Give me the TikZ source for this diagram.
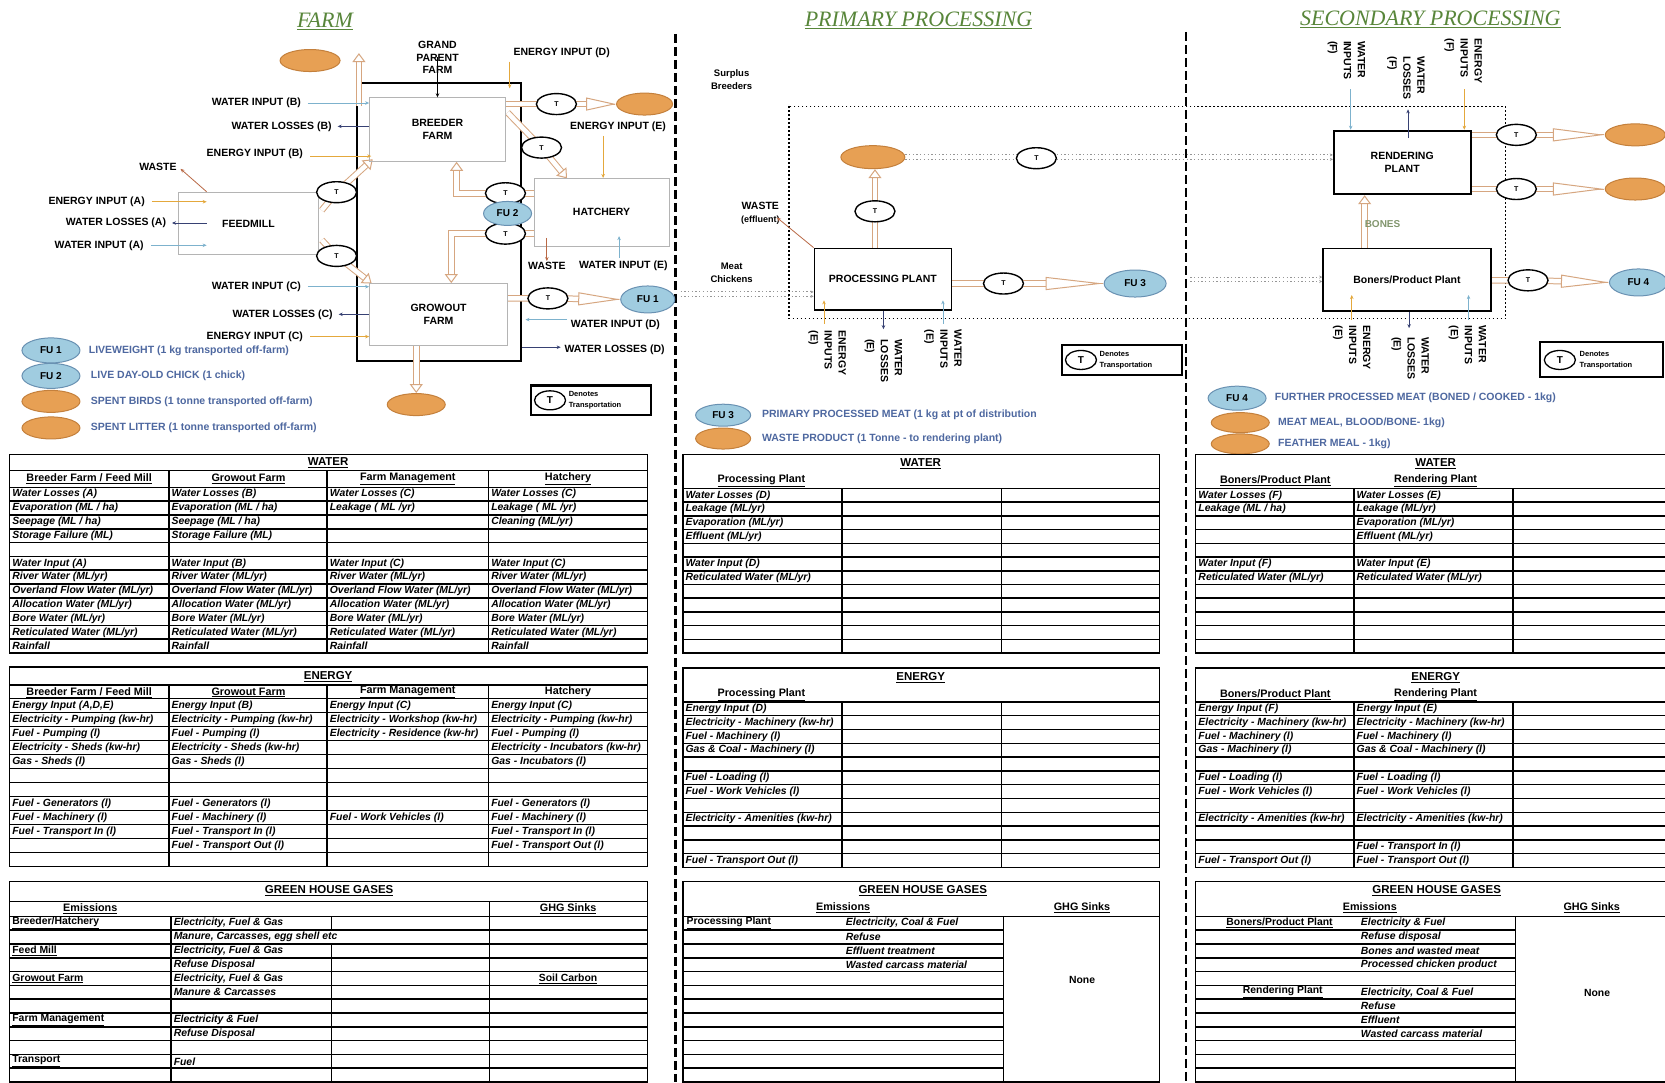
\documentclass[tikz,border=0pt]{standalone}
\usepackage{fontspec}
\setmainfont{Liberation Sans}
\newfontfamily\headserif{Liberation Serif}
\usetikzlibrary{shapes.geometric,arrows.meta,calc}
\pgfdeclarelayer{back}
\pgfdeclarelayer{flows}
\pgfsetlayers{back,flows,main}

\definecolor{titleGreen}{RGB}{88,134,58}
\definecolor{fuOrFill}{RGB}{231,160,84}
\definecolor{fuOrEdge}{RGB}{196,128,60}
\definecolor{fuBlueFill}{RGB}{160,204,224}
\definecolor{fuBlueEdge}{RGB}{105,145,178}
\definecolor{legendBlue}{RGB}{78,104,160}
\definecolor{flowTan}{RGB}{214,166,128}
\definecolor{waterIn}{RGB}{125,178,205}
\definecolor{waterOut}{RGB}{55,65,115}
\definecolor{energyIn}{RGB}{228,168,60}
\definecolor{wasteCol}{RGB}{185,105,70}
\definecolor{boneGreen}{RGB}{130,150,110}
\definecolor{unitGrey}{RGB}{180,180,180}
\definecolor{xferGrey}{RGB}{150,150,150}

% one column of table cells: prefix, x, top of first row, row height, entries
\newcommand\cellcol[5]{%
  \foreach \celltext [count=\rr] in {#5}{%
    \node[cell] (#1\rr) at (#2,{#3+(\rr-0.5)*#4}) {\celltext};}}
% inner row separators: x0, x1, top, row height, number of lines
\newcommand\rowlines[5]{%
  \foreach \kk in {1,...,#5}{\draw[gridline] (#1,{#3+\kk*#4}) -- (#2,{#3+\kk*#4});}}

\begin{document}
\begin{tikzpicture}[x=1.0619pt,y=-1.0619pt,
  lbl/.style={font=\bfseries\fontsize{10.5}{12.5}\selectfont, inner sep=0.5pt, align=center},
  smalllbl/.style={font=\bfseries\fontsize{9.5}{13}\selectfont, inner sep=0.5pt, align=center},
  vlbl/.style={font=\bfseries\fontsize{10.5}{14}\selectfont, inner sep=0.5pt, align=left, rotate=-90, anchor=west},
  unitbox/.style={draw=unitGrey, line width=0.8pt, font=\bfseries\fontsize{10.5}{13}\selectfont, align=center, inner sep=0pt},
  plantbox/.style={draw=black, line width=1.8pt, font=\bfseries\fontsize{10.5}{13}\selectfont, align=center, inner sep=0pt},
  tsign/.style={ellipse, draw=black, line width=1.4pt, fill=white, minimum width=40pt, minimum height=21pt, inner sep=0pt, font=\bfseries\fontsize{7}{8}\selectfont},
  tkey/.style={ellipse, draw=black, line width=1.3pt, fill=white, minimum width=31pt, minimum height=19pt, inner sep=0pt, font=\bfseries\fontsize{10}{11}\selectfont},
  keytext/.style={font=\bfseries\fontsize{7.5}{11}\selectfont, align=left, anchor=west, inner sep=0.5pt},
  fuB/.style={ellipse, draw=fuBlueEdge, line width=1pt, fill=fuBlueFill, inner sep=0pt, minimum height=25pt, minimum width=#1, font=\bfseries\fontsize{10}{11}\selectfont},
  fuB/.default=56pt,
  fuO/.style={ellipse, draw=fuOrEdge, line width=1pt, fill=fuOrFill, inner sep=0pt, minimum height=22pt, minimum width=#1},
  fuO/.default=60pt,
  legtext/.style={font=\bfseries\fontsize{10.5}{12}\selectfont, text=legendBlue, anchor=west, inner sep=0.5pt},
  sectitle/.style={font=\headserif\itshape\fontsize{22}{24}\selectfont, text=titleGreen, inner sep=1pt},
  win/.style={draw=waterIn, line width=0.8pt, -{Stealth[length=4pt,width=3.5pt]}},
  wout/.style={draw=waterOut, line width=0.8pt, -{Stealth[length=4pt,width=3.5pt]}},
  ein/.style={draw=energyIn, line width=0.8pt, -{Stealth[length=4pt,width=3.5pt]}},
  wst/.style={draw=wasteCol, line width=0.8pt, -{Stealth[length=4pt,width=3.5pt]}},
  flow/.style={draw=flowTan, line width=1pt, double=white, double distance=4.5pt},
  flowhead/.style={draw=flowTan, line width=1pt, -{Triangle[open,fill=white,length=#1,width=13pt]}},
  flowhead/.default=9pt,
  xfer/.style={draw=xferGrey, line width=1pt, dash pattern=on 1.3pt off 2.4pt},
  sepline/.style={line width=2.4pt, dash pattern=on 9pt off 4pt},
  zone/.style={line width=1.3pt, dash pattern=on 1.8pt off 2.2pt},
  tlegend/.style={draw, line width=2.2pt, inner sep=0pt},
  gridline/.style={line width=1.5pt},
  cell/.style={font=\bfseries\itshape\fontsize{10.4}{11}\selectfont, anchor=west, inner sep=0.5pt},
  colhead/.style={font=\bfseries\fontsize{10.8}{12}\selectfont, inner sep=0.5pt},
  tabtitle/.style={font=\bfseries\fontsize{11.5}{12}\selectfont, inner sep=0.5pt},
  rowhead/.style={font=\bfseries\fontsize{10.4}{11}\selectfont, inner sep=0.5pt}
]
\useasboundingbox (0,0) rectangle (1568,1019);

% ================= background: page, separators, boundaries
\begin{pgfonlayer}{back}
  \fill[white] (0,0) rectangle (1568,1019);
  \draw[sepline] (636,32) -- (636,1019);
  \draw[sepline] (1117,30) -- (1117,1019);
  \draw[zone] (743,100) rectangle (1418,300);
  \node[draw, line width=1.8pt, minimum width=164.6pt, minimum height=278.2pt, inner sep=0pt] (farmzone) at (413.5,209) {};
\end{pgfonlayer}

% ================= section titles
\node[sectitle] (farmT) at (306,20) {\underline{FARM}};
\node[sectitle] (primT) at (865,19) {\underline{PRIMARY PROCESSING}};
\node[sectitle] (secT) at (1347,18) {\underline{SECONDARY PROCESSING}};

% ================= farm units
\node[unitbox, minimum width=135.9pt, minimum height=63.7pt] (breeder) at (412,122) {BREEDER\\FARM};
\node[unitbox, minimum width=138pt, minimum height=61.6pt] (growout) at (413,296) {GROWOUT\\FARM};
\node[unitbox, minimum width=140.2pt, minimum height=62.7pt] (feedmill) at (234,210.5) {FEEDMILL};
\node[unitbox, minimum width=134.9pt, minimum height=68pt] (hatchery) at (566.5,200) {HATCHERY};

% transport points and functional units on the farm
\node[tsign] (tfa) at (317,181) {T};
\node[tsign] (tfb) at (317,241) {T};
\node[tsign] (tbo) at (524,98) {T};
\node[tsign] (tbh) at (510,139) {T};
\node[tsign] (tca) at (476,182) {T};
\node[tsign] (tcb) at (476,220) {T};
\node[fuB=48pt, minimum height=24pt] (fu2) at (478,201) {FU 2};
\node[tsign] (tgr) at (516,281) {T};
\node[fuB=54pt, minimum height=27pt] (fu1) at (610,282) {FU 1};
\node[fuO=60pt] (ored1) at (292,57) {};
\node[fuO=56pt] (ored2) at (607,98) {};
\node[fuO=58pt] (ored3) at (392,381) {};

% ================= farm labels and thin flows
\node[lbl] (gpf) at (412,54) {GRAND\\PARENT\\FARM};
\draw[black, line width=0.9pt, -{Stealth[length=4pt,width=3.5pt]}] (gpf.center) -- (breeder.north);
\node[lbl, anchor=west] (eiD) at (483,50) {ENERGY INPUT (D)};
\coordinate (eiDtop) at (480,58);
\draw[ein] (eiDtop) -- ($(eiDtop |- farmzone.north)+(0,6)$);
\node[lbl] (eiE) at (582,119) {ENERGY INPUT (E)};
\coordinate (eiEtop) at (568,128);
\draw[ein] (eiEtop) -- (eiEtop |- hatchery.north);
\node[lbl] (wsH) at (515,250) {WASTE};
\coordinate (wsHtop) at (515,224);
\draw[wst] (wsHtop) -- (wsH.north);
\node[lbl] (wiE) at (587,250) {WATER INPUT (E)};
\coordinate (wiEfoot) at (583,243);
\draw[win] (wiEfoot) -- ($(wiEfoot |- hatchery.south)+(0,-10)$);
\node[lbl, anchor=west] (wiD) at (537,306) {WATER INPUT (D)};
\draw[win] ($(wiD.west)+(-3,-5)$) -- ($(farmzone.east |- wiD.west)+(3,-5)$);
\node[lbl, anchor=west] (wlD) at (531,329) {WATER LOSSES (D)};
\draw[wout] ($(farmzone.east |- wlD.west)+(0,-2)$) -- ($(wlD.west)+(-3,-2)$);

\node[lbl, anchor=east] (wiB) at (284,97) {WATER INPUT (B)};
\draw[win] ($(wiB.east)+(6,0)$) -- (breeder.west |- wiB.east);
\node[lbl, anchor=east] (wlB) at (313,119) {WATER LOSSES (B)};
\draw[wout] (breeder.west |- wlB.east) -- ($(wlB.east)+(5,0)$);
\node[lbl, anchor=east] (eiB) at (286,145) {ENERGY INPUT (B)};
\draw[ein] ($(eiB.east)+(6,2)$) -- ($(breeder.west |- eiB.east)+(2,2)$);
\node[lbl, anchor=east] (wsF) at (167,157) {WASTE};
\draw[wst] ($(feedmill.north west)+(27,0)$) -- ($(wsF.east)+(3,2)$);
\node[lbl, anchor=east] (eiA) at (137,190) {ENERGY INPUT (A)};
\draw[ein] ($(eiA.east)+(6,0)$) -- ($(feedmill.west |- eiA.east)+(27,0)$);
\node[lbl, anchor=east] (wlA) at (157,210) {WATER LOSSES (A)};
\draw[wout] ($(feedmill.west |- wlA.east)+(27,0)$) -- ($(wlA.east)+(5,0)$);
\node[lbl, anchor=east] (wiA) at (136,231) {WATER INPUT (A)};
\draw[win] ($(wiA.east)+(6,0)$) -- ($(feedmill.west |- wiA.east)+(27,0)$);
\node[lbl, anchor=east] (wiC) at (284,270) {WATER INPUT (C)};
\draw[win] ($(wiC.east)+(6,0)$) -- (growout.west |- wiC.east);
\node[lbl, anchor=east] (wlC) at (314,296) {WATER LOSSES (C)};
\draw[wout] (growout.west |- wlC.east) -- ($(wlC.east)+(5,0)$);
\node[lbl, anchor=east] (eiC) at (286,317) {ENERGY INPUT (C)};
\draw[ein] ($(eiC.east)+(6,0)$) -- (growout.west |- eiC.east);

% farm key
\node[fuB=58pt] (fu1leg) at (48,330) {FU 1};
\node[legtext] (fu1txt) at (83,330) {LIVEWEIGHT (1 kg transported off-farm)};
\node[fuB=58pt] (fu2leg) at (48,354) {FU 2};
\node[legtext] (fu2txt) at (85,354) {LIVE DAY-OLD CHICK (1 chick)};
\node[fuO=58pt] (sbleg) at (48,378) {};
\node[legtext] (sbtxt) at (85,378) {SPENT BIRDS (1 tonne transported off-farm)};
\node[fuO=58pt] (slleg) at (48,403) {};
\node[legtext] (sltxt) at (85,403) {SPENT LITTER (1 tonne transported off-farm)};
\node[tlegend, minimum width=120pt, minimum height=29.7pt] (tkeyF) at (556.5,377) {};
\node[tkey] (tkeyFt) at (518,377) {T};
\node[keytext] (tkeyFx) at (535,377) {Denotes\\Transportation};

% ================= primary processing
\node[plantbox, minimum width=137pt, minimum height=61.6pt] (procplant) at (831.5,263) {PROCESSING PLANT};
\node[fuO=64pt, minimum height=23pt] (oproc) at (822,148) {};
\node[tsign] (tpa) at (824,199) {T};
\node[tsign] (tpb) at (976,149) {T};
\node[tsign] (tpc) at (945,267) {T};
\node[fuB=62pt, minimum height=27pt] (fu3) at (1069,267) {FU 3};

\node[smalllbl] (surplus) at (689,75) {Surplus\\Breeders};
\node[lbl] (wsP) at (716,201) {WASTE\\{\fontsize{9}{10}\selectfont (effluent)}};
\draw[wst] (procplant.north west) -- ($(wsP.east)+(-3,4)$);
\node[smalllbl] (meatch) at (689,257) {Meat\\Chickens};

\coordinate (peA) at (776,305);
\draw[ein] (peA) -- ($(peA |- procplant.south)+(0,-10)$);
\coordinate (pwEnd) at (832,310);
\draw[wout] (pwEnd |- procplant.south) -- (pwEnd);
\coordinate (piA) at (888,305);
\draw[win] (piA) -- ($(piA |- procplant.south)+(0,-10)$);
\node[vlbl] (pel) at (779,311) {ENERGY\\INPUTS\\(E)};
\node[vlbl] (pwl) at (832,319) {WATER\\LOSSES\\(E)};
\node[vlbl] (pil) at (888,310) {WATER\\INPUTS\\(E)};

\node[tlegend, minimum width=120pt, minimum height=29.7pt] (tkeyP) at (1056.5,339) {};
\node[tkey] (tkeyPt) at (1018,339) {T};
\node[keytext] (tkeyPx) at (1035,339) {Denotes\\Transportation};

\node[fuB=55pt, minimum height=22pt] (fu3leg) at (681,391) {FU 3};
\node[legtext] (fu3txt) at (717,391) {PRIMARY PROCESSED MEAT (1 kg at pt of distribution};
\node[fuO=55pt, minimum height=21pt] (wpleg) at (681,413) {};
\node[legtext] (wptxt) at (717,413) {WASTE PRODUCT (1 Tonne - to rendering plant)};

% ================= secondary processing
\node[plantbox, minimum width=137pt, minimum height=63.7pt] (rendering) at (1320.5,153) {RENDERING\\PLANT};
\node[plantbox, minimum width=167.8pt, minimum height=62.7pt] (boners) at (1325,263.5) {Boners/Product Plant};
\node[tsign] (tra) at (1428,127) {T};
\node[tsign] (trb) at (1428,178) {T};
\node[tsign] (tbn) at (1439,264) {T};
\node[fuO=60pt] (oren1) at (1540,127) {};
\node[fuO=60pt] (oren2) at (1540,178) {};
\node[fuB=58pt, minimum height=27pt] (fu4) at (1543,266) {FU 4};
\node[font=\bfseries\fontsize{10}{11}\selectfont, text=boneGreen, inner sep=0.5pt] (bones) at (1302,211) {BONES};

\node[vlbl] (sril) at (1268,38) {WATER\\INPUTS\\(F)};
\node[vlbl] (srll) at (1324,53) {WATER\\LOSSES\\(F)};
\node[vlbl] (srel) at (1378,36) {ENERGY\\INPUTS\\(F)};
\coordinate (sriA) at (1272,84);
\draw[win] (sriA) -- (sriA |- rendering.north);
\coordinate (srlA) at (1326,103);
\draw[wout] ($(srlA |- rendering.north)+(0,8)$) -- (srlA);
\coordinate (sreA) at (1379,84);
\draw[ein] (sreA) -- (sreA |- rendering.north);

\coordinate (seA) at (1273,301);
\draw[ein] (seA) -- ($(seA |- boners.south)+(0,-16)$);
\coordinate (swEnd) at (1327,309);
\draw[wout] (swEnd |- boners.south) -- (swEnd);
\coordinate (siA) at (1383,301);
\draw[win] (siA) -- ($(siA |- boners.south)+(0,-16)$);
\node[vlbl] (sel) at (1273,306) {ENERGY\\INPUTS\\(E)};
\node[vlbl] (swl) at (1328,317) {WATER\\LOSSES\\(E)};
\node[vlbl] (sil) at (1382,306) {WATER\\INPUTS\\(E)};

\node[tlegend, minimum width=123pt, minimum height=35pt] (tkeyS) at (1508,338.5) {};
\node[tkey] (tkeySt) at (1469,339) {T};
\node[keytext] (tkeySx) at (1487,339) {Denotes\\Transportation};

\node[fuB=58pt, minimum height=24pt] (fu4leg) at (1165,375) {FU 4};
\node[legtext] (fu4txt) at (1200,375) {FURTHER PROCESSED MEAT (BONED / COOKED - 1kg)};
\node[fuO=58pt, minimum height=20pt] (mmleg) at (1168,398) {};
\node[legtext] (mmtxt) at (1203,398) {MEAT MEAL, BLOOD/BONE- 1kg)};
\node[fuO=58pt, minimum height=20pt] (fmleg) at (1168,418) {};
\node[legtext] (fmtxt) at (1203,418) {FEATHER MEAL - 1kg)};

% ================= material flows (drawn beneath the nodes)
\begin{pgfonlayer}{flows}
  % spent birds leaving the farm
  \coordinate (upStart) at (338,100);
  \coordinate (upEnd) at (338,50);
  \draw[flow, shorten >=7pt] (upStart) -- (upEnd);
  \draw[flowhead] ($(upEnd)!1pt!(upStart)$) -- (upEnd);
  % feedmill to breeder farm
  \coordinate (fmUp) at (303,198);
  \coordinate (brFoot) at (351,150);
  \draw[flow, shorten >=7pt] (fmUp) -- (tfa.center) -- (brFoot);
  \draw[flowhead] ($(brFoot)!1pt!(tfa.center)$) -- (brFoot);
  % feedmill to growout farm
  \coordinate (fmDown) at (303,226);
  \coordinate (grHead) at (350,267);
  \draw[flow, shorten >=7pt] (fmDown) -- (tfb.center) -- (grHead);
  \draw[flowhead] ($(grHead)!1pt!(tfb.center)$) -- (grHead);
  % breeder farm to hatchery
  \coordinate (brOut) at (478,106);
  \coordinate (hatTop) at (534,168);
  \draw[flow, shorten >=7pt] (brOut) -- (tbh.center) -- (hatTop);
  \draw[flowhead] ($(hatTop)!1pt!(tbh.center)$) -- (hatTop);
  % breeder farm to surplus breeders
  \draw[flow, shorten >=28pt] (breeder.east |- tbo) -- (tbo.center) -- (ored2.west);
  \draw[flowhead=30pt] ($(ored2.west)!1pt!(tbo.center)$) -- (ored2.west);
  % day-old chicks back to breeder and on to growout
  \coordinate (chkUpCorner) at (430,182);
  \coordinate (chkUpTip) at (chkUpCorner |- breeder.south);
  \draw[flow, shorten >=7pt] (hatchery.west |- tca) -- (chkUpCorner) -- (chkUpTip);
  \draw[flowhead] ($(chkUpTip)!1pt!(chkUpCorner)$) -- (chkUpTip);
  \coordinate (chkDnCorner) at (425,220);
  \coordinate (chkDnTip) at (chkDnCorner |- growout.north);
  \draw[flow, shorten >=7pt] (hatchery.west |- tcb) -- (chkDnCorner) -- (chkDnTip);
  \draw[flowhead] ($(chkDnTip)!1pt!(chkDnCorner)$) -- (chkDnTip);
  % growout farm to FU 1
  \draw[flow, shorten >=40pt] (growout.east |- tgr) -- (tgr.center) -- (fu1.west);
  \draw[flowhead=42pt] ($(fu1.west)!1pt!(tgr.center)$) -- (fu1.west);
  % growout farm to spent litter
  \coordinate (litFoot) at (ored3 |- growout.south);
  \draw[flow, shorten >=7pt] (litFoot) -- (ored3.north);
  \draw[flowhead] ($(ored3.north)!1pt!(litFoot)$) -- (ored3.north);

  % processing plant to waste product
  \coordinate (ppUpFoot) at (tpa |- procplant.north);
  \coordinate (ppUpTip) at (tpa |- oproc.south);
  \draw[flow, shorten >=7pt] (ppUpFoot) -- (ppUpTip);
  \draw[flowhead] ($(ppUpTip)!1pt!(ppUpFoot)$) -- (ppUpTip);
  % processing plant to FU 3
  \draw[flow, shorten >=56pt] (procplant.east |- tpc) -- (tpc.center) -- (fu3.west);
  \draw[flowhead=58pt] ($(fu3.west)!1pt!(tpc.center)$) -- (fu3.west);

  % rendering products
  \draw[flow, shorten >=50pt] (rendering.east |- tra) -- (tra.center) -- (oren1.west);
  \draw[flowhead=52pt] ($(oren1.west)!1pt!(tra.center)$) -- (oren1.west);
  \draw[flow, shorten >=50pt] (rendering.east |- trb) -- (trb.center) -- (oren2.west);
  \draw[flowhead=52pt] ($(oren2.west)!1pt!(trb.center)$) -- (oren2.west);
  % boners plant to FU 4
  \draw[flow, shorten >=46pt] (boners.east |- tbn) -- (tbn.center) -- (fu4.west);
  \draw[flowhead=48pt] ($(fu4.west)!1pt!(tbn.center)$) -- (fu4.west);
  % bones to rendering
  \coordinate (bnFoot) at ($(boners.north west)+(40,0)$);
  \coordinate (bnTip) at (bnFoot |- rendering.south);
  \draw[flow, shorten >=7pt] (bnFoot) -- (bnTip);
  \draw[flowhead] ($(bnTip)!1pt!(bnFoot)$) -- (bnTip);

  % dotted transfers between stages
  \coordinate (mcStart) at (641,277);
  \coordinate (mcEnd) at (procplant.west |- mcStart);
  \coordinate (wpStart) at (oproc.east);
  \coordinate (wpEnd) at (rendering.west |- oproc.east);
  \coordinate (bnStart) at (1121,263);
  \coordinate (bnEnd) at (boners.west |- bnStart);
  \foreach \dy in {-2.2,2.2}{
    \draw[xfer, -{Stealth[length=3pt,width=3pt]}] ([yshift=\dy pt]mcStart) -- ([yshift=\dy pt]mcEnd);
    \draw[xfer, -{Stealth[length=3pt,width=3pt]}] ([yshift=\dy pt]wpStart) -- ([yshift=\dy pt]wpEnd);
    \draw[xfer, -{Stealth[length=3pt,width=3pt]}] ([yshift=\dy pt]bnStart) -- ([yshift=\dy pt]bnEnd);
  }
\end{pgfonlayer}

% ================= farm tables
% water
\draw[gridline] (9,428) rectangle (610,615);
\draw[gridline] (9,443) -- (610,443);
\draw[gridline] (9,459) -- (610,459);
\rowlines{9}{610}{459}{13}{11}
\foreach \xx in {159,308,460}{\draw[gridline] (\xx,443) -- (\xx,615);}
\node[tabtitle] (fwT) at (309,436) {\underline{WATER}};
\node[colhead] (fwH1) at (84,451) {\underline{Breeder Farm / Feed Mill}};
\node[colhead] (fwH2) at (234,451) {\underline{Growout Farm}};
\node[colhead] (fwH3) at (384,451) {\underline{Farm Management}};
\node[colhead] (fwH4) at (535,451) {\underline{Hatchery}};
\cellcol{fwa}{11}{459}{13}{Water Losses (A),Evaporation (ML / ha),Seepage (ML / ha),Storage Failure (ML),{},Water Input (A),River Water (ML/yr),Overland Flow Water (ML/yr),Allocation Water (ML/yr),Bore Water (ML/yr),Reticulated Water (ML/yr),Rainfall}
\cellcol{fwb}{161}{459}{13}{Water Losses (B),Evaporation (ML / ha),Seepage (ML / ha),Storage Failure (ML),{},Water Input (B),River Water (ML/yr),Overland Flow Water (ML/yr),Allocation Water (ML/yr),Bore Water (ML/yr),Reticulated Water (ML/yr),Rainfall}
\cellcol{fwc}{310}{459}{13}{Water Losses (C),Leakage ( ML /yr),{},{},{},Water Input (C),River Water (ML/yr),Overland Flow Water (ML/yr),Allocation Water (ML/yr),Bore Water (ML/yr),Reticulated Water (ML/yr),Rainfall}
\cellcol{fwd}{462}{459}{13}{Water Losses (C),Leakage ( ML /yr),Cleaning (ML/yr),{},{},Water Input (C),River Water (ML/yr),Overland Flow Water (ML/yr),Allocation Water (ML/yr),Bore Water (ML/yr),Reticulated Water (ML/yr),Rainfall}

% energy
\draw[gridline] (9,628) rectangle (610,816);
\draw[gridline] (9,645) -- (610,645);
\draw[gridline] (9,658) -- (610,658);
\rowlines{9}{610}{658}{13.17}{11}
\foreach \xx in {159,308,460}{\draw[gridline] (\xx,645) -- (\xx,816);}
\node[tabtitle] (feT) at (309,637) {\underline{ENERGY}};
\node[colhead] (feH1) at (84,652) {\underline{Breeder Farm / Feed Mill}};
\node[colhead] (feH2) at (234,652) {\underline{Growout Farm}};
\node[colhead] (feH3) at (384,652) {\underline{Farm Management}};
\node[colhead] (feH4) at (535,652) {\underline{Hatchery}};
\cellcol{fea}{11}{658}{13.17}{{Energy Input (A,D,E)},Electricity - Pumping (kw-hr),Fuel - Pumping (l),Electricity - Sheds (kw-hr),Gas - Sheds (l),{},{},Fuel - Generators (l),Fuel - Machinery (l),Fuel - Transport In (l)}
\cellcol{feb}{161}{658}{13.17}{Energy Input (B),Electricity - Pumping (kw-hr),Fuel - Pumping (l),Electricity - Sheds (kw-hr),Gas - Sheds (l),{},{},Fuel - Generators (l),Fuel - Machinery (l),Fuel - Transport In (l),Fuel - Transport Out (l)}
\cellcol{fec}{310}{658}{13.17}{Energy Input (C),Electricity - Workshop (kw-hr),Electricity - Residence (kw-hr),{},{},{},{},{},Fuel - Work Vehicles (l)}
\cellcol{fed}{462}{658}{13.17}{Energy Input (C),Electricity - Pumping (kw-hr),Fuel - Pumping (l),Electricity - Incubators (kw-hr),Gas - Incubators (l),{},{},Fuel - Generators (l),Fuel - Machinery (l),Fuel - Transport In (l),Fuel - Transport Out (l)}

% greenhouse gases
\draw[gridline] (9,830) rectangle (610,1019);
\draw[gridline] (9,849) -- (610,849);
\draw[gridline] (9,863) -- (610,863);
\rowlines{9}{610}{863}{13}{11}
\draw[gridline] (461,849) -- (461,1019);
\draw[gridline] (161,863) -- (161,1019);
\draw[gridline] (312,863) -- (312,876);
\draw[gridline] (312,889) -- (312,1019);
\node[tabtitle] (fgT) at (310,839) {\underline{GREEN HOUSE GASES}};
\node[colhead] (fgH1) at (85,856) {\underline{Emissions}};
\node[colhead] (fgH2) at (535,856) {\underline{GHG Sinks}};
\node[rowhead, anchor=west] (fgr1) at (11,869.5) {\underline{Breeder/Hatchery}};
\node[rowhead, anchor=west] (fgr3) at (11,895.5) {\underline{Feed Mill}};
\node[rowhead, anchor=west] (fgr5) at (11,921.5) {\underline{Growout Farm}};
\node[rowhead, anchor=west] (fgr8) at (11,960.5) {\underline{Farm Management}};
\node[rowhead, anchor=west] (fgr11) at (11,999.5) {\underline{Transport}};
\cellcol{fgs}{163}{863}{13}{{Electricity, Fuel \& Gas},{Manure, Carcasses, egg shell etc},{Electricity, Fuel \& Gas},Refuse Disposal,{Electricity, Fuel \& Gas},Manure \& Carcasses,{},Electricity \& Fuel,Refuse Disposal,{},Fuel}
\node[rowhead] (fgSink) at (535,921.5) {\underline{Soil Carbon}};

% ================= primary processing tables
\draw[gridline] (643,428) rectangle (1092,615);
\draw[gridline] (643,460) -- (1092,460);
\rowlines{643}{1092}{460}{12.92}{11}
\foreach \xx in {793,943}{\draw[gridline] (\xx,460) -- (\xx,615);}
\node[tabtitle] (pwT) at (867,437) {\underline{WATER}};
\node[colhead] (pwH) at (717,453) {\underline{Processing Plant}};
\cellcol{pwa}{645}{460}{12.92}{Water Losses (D),Leakage (ML/yr),Evaporation (ML/yr),Effluent (ML/yr),{},Water Input (D),Reticulated Water (ML/yr)}

\draw[gridline] (643,629) rectangle (1092,817);
\draw[gridline] (643,661) -- (1092,661);
\rowlines{643}{1092}{661}{13}{11}
\foreach \xx in {793,943}{\draw[gridline] (\xx,661) -- (\xx,817);}
\node[tabtitle] (peT) at (867,638) {\underline{ENERGY}};
\node[colhead] (peH) at (717,654) {\underline{Processing Plant}};
\cellcol{pea}{645}{661}{13}{Energy Input (D),Electricity - Machinery (kw-hr),Fuel - Machinery (l),Gas \& Coal - Machinery (l),{},Fuel - Loading (l),Fuel - Work Vehicles (l),{},Electricity - Amenities (kw-hr),{},{},Fuel - Transport Out (l)}

\draw[gridline] (643,830) rectangle (1092,1019);
\draw[gridline] (643,863) -- (1092,863);
\rowlines{643}{945}{863}{13}{11}
\draw[gridline] (945,863) -- (945,1019);
\node[tabtitle] (pgT) at (869,839) {\underline{GREEN HOUSE GASES}};
\node[colhead] (pgH1) at (794,855) {\underline{Emissions}};
\node[colhead] (pgH2) at (1019,855) {\underline{GHG Sinks}};
\node[rowhead, anchor=west] (pgr1) at (646,869.5) {\underline{Processing Plant}};
\cellcol{pgs}{796}{863}{13}{{Electricity, Coal \& Fuel},Refuse,Effluent treatment,Wasted carcass material}
\node[rowhead] (pgSink) at (1019,923) {None};

% ================= secondary processing tables
\draw[gridline] (1126,428) rectangle (1580,615);
\draw[gridline] (1126,460) -- (1580,460);
\rowlines{1126}{1580}{460}{12.92}{11}
\foreach \xx in {1275,1425}{\draw[gridline] (\xx,460) -- (\xx,615);}
\node[tabtitle] (swT) at (1352,437) {\underline{WATER}};
\node[colhead] (swH1) at (1201,453) {\underline{Boners/Product Plant}};
\node[colhead] (swH2) at (1352,453) {\underline{Rendering Plant}};
\cellcol{swa}{1128}{460}{12.92}{Water Losses (F),Leakage (ML / ha),{},{},{},Water Input (F),Reticulated Water (ML/yr)}
\cellcol{swb}{1277}{460}{12.92}{Water Losses (E),Leakage (ML/yr),Evaporation (ML/yr),Effluent (ML/yr),{},Water Input (E),Reticulated Water (ML/yr)}

\draw[gridline] (1126,629) rectangle (1580,817);
\draw[gridline] (1126,661) -- (1580,661);
\rowlines{1126}{1580}{661}{13}{11}
\foreach \xx in {1275,1425}{\draw[gridline] (\xx,661) -- (\xx,817);}
\node[tabtitle] (seT) at (1352,638) {\underline{ENERGY}};
\node[colhead] (seH1) at (1201,654) {\underline{Boners/Product Plant}};
\node[colhead] (seH2) at (1352,654) {\underline{Rendering Plant}};
\cellcol{sea}{1128}{661}{13}{Energy Input (F),Electricity - Machinery (kw-hr),Fuel - Machinery (l),Gas - Machinery (l),{},Fuel - Loading (l),Fuel - Work Vehicles (l),{},Electricity - Amenities (kw-hr),{},{},Fuel - Transport Out (l)}
\cellcol{seb}{1277}{661}{13}{Energy Input (E),Electricity - Machinery (kw-hr),Fuel - Machinery (l),Gas \& Coal - Machinery (l),{},Fuel - Loading (l),Fuel - Work Vehicles (l),{},Electricity - Amenities (kw-hr),{},Fuel - Transport In (l),Fuel - Transport Out (l)}

\draw[gridline] (1126,830) rectangle (1580,1019);
\draw[gridline] (1126,863) -- (1580,863);
\rowlines{1126}{1427}{863}{13}{11}
\draw[gridline] (1427,863) -- (1427,1019);
\node[tabtitle] (sgT) at (1353,839) {\underline{GREEN HOUSE GASES}};
\node[colhead] (sgH1) at (1290,855) {\underline{Emissions}};
\node[colhead] (sgH2) at (1499,855) {\underline{GHG Sinks}};
\node[rowhead] (sgr1) at (1205,869.5) {\underline{Boners/Product Plant}};
\node[rowhead] (sgr6) at (1208,934.5) {\underline{Rendering Plant}};
\cellcol{sgs}{1281}{863}{13}{Electricity \& Fuel,Refuse disposal,Bones and wasted meat,Processed chicken product,{},{Electricity, Coal \& Fuel},Refuse,Effluent,Wasted carcass material}
\node[rowhead] (sgSink) at (1504,935) {None};

\end{tikzpicture}
\end{document}
